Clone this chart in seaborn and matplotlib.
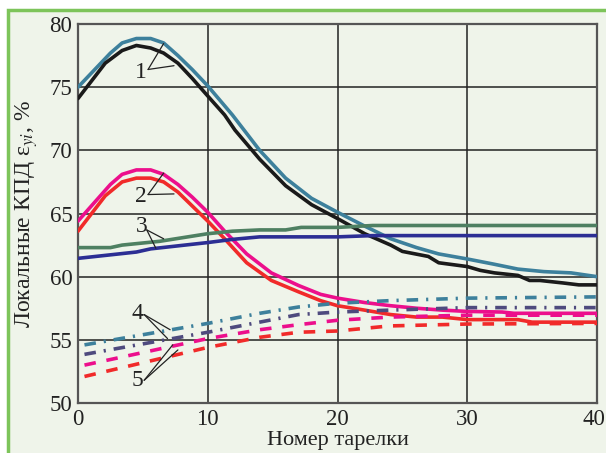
import numpy as np
import pandas as pd
import matplotlib
matplotlib.use("Agg")
import matplotlib.pyplot as plt
import matplotlib.transforms as mtransforms
from matplotlib.patches import Rectangle
import seaborn as sns

# ---------------- data ----------------
x1a = [0, 2.5, 3.4, 4.5, 5.6, 6.6, 7.7, 8.8, 10, 11.9, 14, 16, 18, 20, 22.1, 24.1, 26.1, 27.8, 30, 32, 33.9, 35.9, 38, 40]
y1a = [75.0, 77.7, 78.5, 78.85, 78.85, 78.5, 77.5, 76.4, 75.1, 72.8, 70.0, 67.8, 66.2, 65.1, 64.0, 63.0, 62.3, 61.8, 61.4, 61.0, 60.6, 60.4, 60.3, 60.0]

x1b = [0, 2.1, 3.4, 4.5, 5.6, 6.6, 7.7, 8.8, 10, 11.3, 12.1, 14, 16, 18, 20, 22.1, 24.1, 25, 27, 27.8, 30, 31, 32.1, 33.9, 34.8, 35.6, 37.4, 38.6, 40]
y1b = [74.1, 76.9, 77.9, 78.3, 78.1, 77.7, 76.9, 75.7, 74.3, 72.8, 71.6, 69.3, 67.2, 65.7, 64.6, 63.4, 62.5, 62.0, 61.6, 61.1, 60.8, 60.5, 60.3, 60.1, 59.7, 59.7, 59.5, 59.35, 59.35]

x2a = [0, 2.5, 3.4, 4.5, 5.6, 6.6, 7.7, 8.8, 10, 11.3, 13, 14.9, 17, 18.7, 20, 22.1, 24.1, 26.1, 28.1, 30, 32.7, 33.6, 40]
y2a = [64.4, 67.3, 68.1, 68.45, 68.45, 68.1, 67.3, 66.3, 65.1, 63.6, 61.8, 60.3, 59.3, 58.6, 58.3, 57.95, 57.7, 57.5, 57.35, 57.25, 57.2, 57.1, 57.1]

x2b = [0, 2.1, 3.4, 4.5, 5.6, 6.6, 7.7, 8.8, 10, 11.3, 13, 14.9, 17, 18.7, 20, 22.1, 24.1, 26.1, 28.1, 30, 33.9, 35, 40]
y2b = [63.6, 66.4, 67.5, 67.8, 67.8, 67.5, 66.7, 65.6, 64.4, 63.0, 61.1, 59.7, 58.8, 58.1, 57.7, 57.35, 57.0, 56.8, 56.8, 56.6, 56.6, 56.4, 56.4]

x3a = [0, 2.5, 3.4, 6.3, 10, 11.9, 14, 16, 17.2, 20, 22.7, 40]
y3a = [62.3, 62.3, 62.5, 62.8, 63.4, 63.6, 63.7, 63.7, 63.9, 63.9, 64.05, 64.05]

x3b = [0, 4.5, 5.6, 10, 11.9, 14, 20, 22.7, 40]
y3b = [61.45, 61.95, 62.2, 62.7, 62.95, 63.15, 63.15, 63.25, 63.25]

x4a = [0.5, 10, 14, 17, 20, 24, 30, 40]
y4a = [54.6, 56.3, 57.1, 57.6, 57.9, 58.1, 58.3, 58.4]

x4b = [0.5, 10, 14, 17, 20, 24, 30, 40]
y4b = [53.85, 55.6, 56.4, 57.0, 57.2, 57.35, 57.55, 57.55]

x5a = [0.5, 10, 14, 17, 20, 24, 30, 40]
y5a = [53.0, 55.1, 55.8, 56.2, 56.55, 56.8, 56.95, 56.95]

x5b = [0.5, 10, 14, 17, 20, 24, 30, 40]
y5b = [52.1, 54.4, 55.2, 55.6, 55.7, 56.1, 56.25, 56.3]

x_ticks = [0, 10, 20, 30, 40]
y_ticks = [50, 55, 60, 65, 70, 75, 80]

# curve labels: (text, label position, line start, [targets])
labels = [
    ("1", (4.85, 76.2), (5.4, 76.4), [(6.6, 78.45), (7.4, 76.7)]),
    ("2", (4.85, 66.35), (5.4, 66.5), [(6.6, 68.2), (7.4, 66.55)]),
    ("3", (4.9, 63.95), (5.3, 63.7), [(6.6, 63.0), (6.0, 62.25)]),
    ("4", (4.6, 57.1), (5.1, 57.0), [(7.1, 55.8), (6.9, 55.1)]),
    ("5", (4.6, 51.8), (5.1, 51.8), [(7.3, 54.6), (7.7, 54.2)]),
]

# ---------------- styling ----------------
sns.set_theme(style="white")
plt.rcParams["font.family"] = ["Liberation Serif", "DejaVu Serif"]
plt.rcParams["mathtext.fontset"] = "stix"

BG = "#EFF4EA"
INK = "#222222"
fig = plt.figure(figsize=(6.06, 4.53), dpi=100)
fig.patch.set_facecolor("white")
fig.add_artist(Rectangle((8 / 606, -0.05), 1.0, 1 - 10 / 453 + 0.05,
                         transform=fig.transFigure, facecolor=BG,
                         edgecolor="#7DC45A", linewidth=2.5, zorder=0))

ax = fig.add_axes([78 / 606, 1 - 403 / 453, (597 - 78) / 606, (403 - 24) / 453])
ax.set_facecolor(BG)

series = [
    (x1a, y1a, "#3D809C", "-"),
    (x1b, y1b, "#1A1A1A", "-"),
    (x2a, y2a, "#EC0F8C", "-"),
    (x2b, y2b, "#F12A2A", "-"),
    (x3a, y3a, "#4E8062", "-"),
    (x3b, y3b, "#2C2E94", "-"),
    (x4a, y4a, "#3D809C", (0, (3.2, 2.2, 0.6, 2.2))),
    (x4b, y4b, "#4E4A7E", (0, (3.2, 2.2, 0.6, 2.2))),
    (x5a, y5a, "#EC0F8C", (0, (3.2, 3.0))),
    (x5b, y5b, "#F12A2A", (0, (3.2, 3.0))),
]
for xs, ys, col, ls in series:
    df = pd.DataFrame({"x": xs, "y": ys})
    sns.lineplot(data=df, x="x", y="y", ax=ax, color=col, linewidth=2.6,
                 linestyle=ls, estimator=None, sort=False, zorder=3)

for txt, (tx, ty), (sx, sy), targets in labels:
    ax.text(tx, ty, txt, fontsize=17, ha="center", va="center", color=INK, zorder=5)
    for (ex, ey) in targets:
        ax.plot([sx, ex], [sy, ey], color=INK, linewidth=0.9, zorder=5)

ax.set_xlim(0, 40)
ax.set_ylim(50, 80)
ax.set_xticks(x_ticks)
ax.set_yticks(y_ticks)
ax.grid(True, color=INK, linewidth=1.1)
ax.set_axisbelow(True)
for s in ax.spines.values():
    s.set_color("#555555")
    s.set_linewidth(1.6)
ax.tick_params(axis="both", length=0, labelsize=16.5, colors=INK)
ax.tick_params(axis="x", pad=4)
ax.tick_params(axis="y", pad=4)
ax.set_xlabel("Номер тарелки", fontsize=16, color=INK, labelpad=1)
ax.set_ylabel("Локальные КПД ε$_{yi}$, %", fontsize=17, color=INK, labelpad=7)

# keep the last x tick label inside the picture
last = ax.get_xticklabels()[-1]
last.set_transform(last.get_transform() +
                   mtransforms.ScaledTranslation(-3 / 100, 0, fig.dpi_scale_trans))

fig.savefig("out.png", dpi=100, facecolor=fig.get_facecolor())
